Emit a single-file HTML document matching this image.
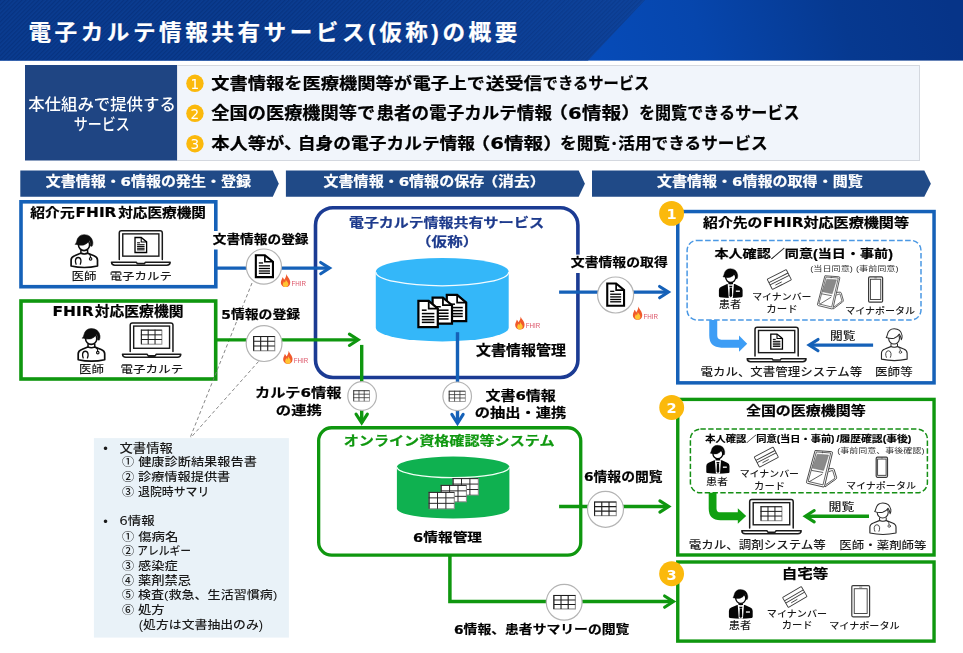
<!DOCTYPE html>
<html lang="ja">
<head>
<meta charset="utf-8">
<title>電子カルテ情報共有サービス(仮称)の概要</title>
<style>
html,body{margin:0;padding:0;background:#fff;}
body{width:963px;height:653px;overflow:hidden;font-family:"Liberation Sans","Noto Sans CJK JP",sans-serif;}
svg{display:block;font-family:"Liberation Sans","Noto Sans CJK JP",sans-serif;opacity:0.999;}
text{white-space:pre;}
</style>
</head>
<body>
<svg width="963" height="653" viewBox="0 0 963 653">
<defs>
<linearGradient id="hg" gradientUnits="userSpaceOnUse" x1="600" y1="75" x2="940" y2="-25">
<stop offset="0" stop-color="#064bb8"/><stop offset="0.3" stop-color="#0646ad"/><stop offset="0.7" stop-color="#063990"/><stop offset="1" stop-color="#063488"/>
</linearGradient>
<linearGradient id="hl" gradientUnits="userSpaceOnUse" x1="250" y1="0" x2="640" y2="0"><stop offset="0" stop-color="#1a5ac0" stop-opacity="0"/><stop offset="1" stop-color="#1a5ac0" stop-opacity="0.22"/></linearGradient>
<pattern id="hatch" width="3" height="3" patternUnits="userSpaceOnUse" patternTransform="rotate(-45)">
<rect width="3" height="3" fill="#0a3c91"/><rect width="3" height="1.3" fill="#073381"/>
</pattern>
</defs>
<rect x="0" y="0" width="963" height="60.6" fill="url(#hg)"/>
<path d="M0 0H645L588 60.6H0Z" fill="url(#hatch)"/>
<path d="M0 0H645L588 60.6H0Z" fill="url(#hl)"/>
<text transform="scale(1.05 1)" x="27.14" y="40.35" font-size="21.52" letter-spacing="3.375" fill="#fff" font-weight="700" stroke="#fff" stroke-width="0.22">電子カルテ情報共有サービス(仮称)の概要</text>
<rect x="177" y="65.5" width="742.5" height="95" fill="#f1f5fb" stroke="#d4d8df" stroke-width="1"/>
<rect x="25" y="65" width="152" height="95.5" fill="#1f4583"/>
<text y="109.64" font-size="16.05" fill="#fff" font-weight="500"><tspan x="28.15" textLength="147.74" lengthAdjust="spacingAndGlyphs">本仕組みで提供する</tspan></text>
<text y="130.38" font-size="16.21" fill="#fff" font-weight="500"><tspan x="73.87" textLength="55.93" lengthAdjust="spacingAndGlyphs">サービス</tspan></text>
<circle cx="194.95" cy="83.3" r="8.7" fill="#fbb90c"/>
<text x="194.95" y="88.67" font-size="13.6" font-weight="400" fill="#fff" text-anchor="middle" font-family="'DejaVu Sans','Liberation Sans',sans-serif">1</text>
<circle cx="194.95" cy="113.3" r="8.7" fill="#fbb90c"/>
<text x="194.95" y="118.67" font-size="13.6" font-weight="400" fill="#fff" text-anchor="middle" font-family="'DejaVu Sans','Liberation Sans',sans-serif">2</text>
<circle cx="194.95" cy="143.7" r="8.7" fill="#fbb90c"/>
<text x="194.95" y="149.07" font-size="13.6" font-weight="400" fill="#fff" text-anchor="middle" font-family="'DejaVu Sans','Liberation Sans',sans-serif">3</text>
<text y="88.97" font-size="16.27" fill="#000" font-weight="700" stroke="#000" stroke-width="0.22"><tspan x="211.29" textLength="200.72" lengthAdjust="spacingAndGlyphs">文書情報を医療機関等が</tspan><tspan x="412.70" textLength="72.21" lengthAdjust="spacingAndGlyphs">電子上で</tspan><tspan x="485.87" textLength="56.45" lengthAdjust="spacingAndGlyphs">送受信</tspan><tspan x="542.58" textLength="106.85" lengthAdjust="spacingAndGlyphs">できるサービス</tspan></text>
<text y="118.94" font-size="16.55" fill="#000" font-weight="700" font-family="'DejaVu Sans','Liberation Sans','Noto Sans CJK JP',sans-serif" stroke="#000" stroke-width="0.22"><tspan x="211.29" textLength="163.92" lengthAdjust="spacingAndGlyphs">全国の医療機関等で</tspan><tspan x="376.41" textLength="175.57" lengthAdjust="spacingAndGlyphs">患者の電子カルテ情報</tspan><tspan x="548.23" textLength="92.75" lengthAdjust="spacingAndGlyphs">（6情報）</tspan><tspan x="638.96" textLength="160.53" lengthAdjust="spacingAndGlyphs">を閲覧できるサービス</tspan></text>
<text y="148.65" font-size="16.47" fill="#000" font-weight="700" font-family="'DejaVu Sans','Liberation Sans','Noto Sans CJK JP',sans-serif" stroke="#000" stroke-width="0.22"><tspan x="211.29" textLength="91.03" lengthAdjust="spacingAndGlyphs">本人等が、</tspan><tspan x="297.74" textLength="177.35" lengthAdjust="spacingAndGlyphs">自身の電子カルテ情報</tspan><tspan x="470.61" textLength="92.20" lengthAdjust="spacingAndGlyphs">（6情報）</tspan><tspan x="560.01" textLength="207.72" lengthAdjust="spacingAndGlyphs">を閲覧･活用できるサービス</tspan></text>
<path d="M20.3 170.6H272.8L278.8 183.64999999999998L272.8 196.7H20.3Z" fill="#204a87"/>
<path d="M285.9 170.6H578.6999999999999L584.9 183.64999999999998L578.6999999999999 196.7H285.9Z" fill="#204a87"/>
<path d="M592 170.6H924.3L930.9 183.64999999999998L924.3 196.7H592Z" fill="#204a87"/>
<text y="186.46" font-size="13.11" fill="#fff" font-weight="700" font-family="'DejaVu Sans','Liberation Sans','Noto Sans CJK JP',sans-serif" stroke="#fff" stroke-width="0.22"><tspan x="45.70" textLength="205.24" lengthAdjust="spacingAndGlyphs">文書情報・6情報の発生・登録</tspan></text>
<text y="186.46" font-size="13.11" fill="#fff" font-weight="700" font-family="'DejaVu Sans','Liberation Sans','Noto Sans CJK JP',sans-serif" stroke="#fff" stroke-width="0.22"><tspan x="323.60" textLength="160.59" lengthAdjust="spacingAndGlyphs">文書情報・6情報の保存</tspan><tspan x="482.25" textLength="63.30" lengthAdjust="spacingAndGlyphs">（消去）</tspan></text>
<text y="186.46" font-size="13.11" fill="#fff" font-weight="700" font-family="'DejaVu Sans','Liberation Sans','Noto Sans CJK JP',sans-serif" stroke="#fff" stroke-width="0.22"><tspan x="656.90" textLength="205.84" lengthAdjust="spacingAndGlyphs">文書情報・6情報の取得・閲覧</tspan></text>
<rect x="93.9" y="438.1" width="195" height="199.5" fill="#e9f2f8"/>
<text x="103.3" y="453.0" font-size="13" fill="#1a1a1a" font-weight="500">•</text>
<text y="452.73" font-size="12.03" fill="#1a1a1a" font-weight="500"><tspan x="119.43" textLength="53.41" lengthAdjust="spacingAndGlyphs">文書情報</tspan></text>
<text y="466.36" font-size="11.72" fill="#1a1a1a" font-weight="500"><tspan x="121.90" textLength="15.47" lengthAdjust="spacingAndGlyphs">① </tspan><tspan x="138.18" textLength="118.68" lengthAdjust="spacingAndGlyphs">健康診断結果報告書</tspan></text>
<text y="481.34" font-size="11.92" fill="#1a1a1a" font-weight="500"><tspan x="121.90" textLength="15.47" lengthAdjust="spacingAndGlyphs">② </tspan><tspan x="137.96" textLength="92.30" lengthAdjust="spacingAndGlyphs">診療情報提供書</tspan></text>
<text y="495.74" font-size="11.92" fill="#1a1a1a" font-weight="500"><tspan x="121.90" textLength="15.47" lengthAdjust="spacingAndGlyphs">③ </tspan><tspan x="138.00" textLength="71.27" lengthAdjust="spacingAndGlyphs">退院時サマリ</tspan></text>
<text x="103.3" y="526.0" font-size="13" fill="#1a1a1a" font-weight="500">•</text>
<text y="525.47" font-size="11.73" fill="#1a1a1a" font-weight="500" font-family="'DejaVu Sans','Liberation Sans','Noto Sans CJK JP',sans-serif"><tspan x="119.20" textLength="35.59" lengthAdjust="spacingAndGlyphs">6情報</tspan></text>
<text y="540.75" font-size="11.83" fill="#1a1a1a" font-weight="500"><tspan x="121.90" textLength="15.47" lengthAdjust="spacingAndGlyphs">① </tspan><tspan x="138.18" textLength="40.37" lengthAdjust="spacingAndGlyphs">傷病名</tspan></text>
<text y="555.18" font-size="11.62" fill="#1a1a1a" font-weight="500"><tspan x="121.90" textLength="15.47" lengthAdjust="spacingAndGlyphs">② </tspan><tspan x="137.14" textLength="53.83" lengthAdjust="spacingAndGlyphs">アレルギー</tspan></text>
<text y="569.55" font-size="11.83" fill="#1a1a1a" font-weight="500"><tspan x="121.90" textLength="15.47" lengthAdjust="spacingAndGlyphs">③ </tspan><tspan x="137.96" textLength="39.68" lengthAdjust="spacingAndGlyphs">感染症</tspan></text>
<text y="584.53" font-size="12.03" fill="#1a1a1a" font-weight="500"><tspan x="121.90" textLength="15.47" lengthAdjust="spacingAndGlyphs">④ </tspan><tspan x="137.96" textLength="53.19" lengthAdjust="spacingAndGlyphs">薬剤禁忌</tspan></text>
<text y="599.16" font-size="11.72" fill="#1a1a1a" font-weight="500"><tspan x="121.90" textLength="15.47" lengthAdjust="spacingAndGlyphs">⑤ </tspan><tspan x="137.96" textLength="139.30" lengthAdjust="spacingAndGlyphs">検査(救急、生活習慣病)</tspan></text>
<text y="613.65" font-size="11.83" fill="#1a1a1a" font-weight="500"><tspan x="121.90" textLength="15.47" lengthAdjust="spacingAndGlyphs">⑥ </tspan><tspan x="137.95" textLength="26.82" lengthAdjust="spacingAndGlyphs">処方</tspan></text>
<text y="629.14" font-size="11.93" fill="#1a1a1a" font-weight="500"><tspan x="138.84" textLength="124.31" lengthAdjust="spacingAndGlyphs">(処方は文書抽出のみ)</tspan></text>
<rect x="21" y="201.8" width="194.8" height="84.9" fill="#fff" stroke="#1561b8" stroke-width="3.6"/>
<text y="216.88" font-size="13.01" fill="#000" font-weight="700" font-family="'DejaVu Sans','Liberation Sans','Noto Sans CJK JP',sans-serif" stroke="#000" stroke-width="0.22"><tspan x="30.35" textLength="44.34" lengthAdjust="spacingAndGlyphs">紹介元</tspan><tspan x="75.56" font-size="14.31" textLength="40.88" lengthAdjust="spacingAndGlyphs">FHIR</tspan><tspan x="118.16" textLength="87.82" lengthAdjust="spacingAndGlyphs">対応医療機関</tspan></text>
<g transform="translate(70.20 234.40) scale(1.0000 1.0000)" stroke="#0d0d0d" stroke-width="1.70" fill="#fff" stroke-linejoin="round" stroke-linecap="round"><path d="M0.9 31.6V25.6Q0.9 22.6 4.4 21.3L10.4 18.9H17.6L23.8 21.3Q27.3 22.6 27.3 25.6V31.6Q14.1 34.6 0.9 31.6Z"/><path d="M10.7 16V18.6Q14 20.4 17.4 18.6V16" fill="#fff" stroke-width="1.50"/><ellipse cx="13.85" cy="10.4" rx="5.6" ry="5.8" stroke-width="1.60"/><path d="M5.3 9.8Q6.1 8.6 6.5 7Q7.8 0.3 14 0.3Q21.2 0.3 22.6 7.6Q22.9 10.2 21.8 11.9L20.2 11.6Q20.6 8.6 19.3 6Q17.5 9.2 13.8 10.5Q10.2 11.4 5.3 9.8Z" fill="#0d0d0d" stroke-width="0.6"/><path d="M5.9 29.8Q5 27.6 5.3 25.8Q5.8 23.1 8 23.1Q10.2 23.1 10.7 25.8Q11 27.6 10.1 29.8" fill="none" stroke-width="1.30"/><path d="M18.7 19.4Q20.4 20.6 20.4 23" fill="none" stroke-width="1.10"/><circle cx="20.4" cy="24.5" r="1.25" stroke-width="1.10"/></g>
<g stroke="#1a1a1a" stroke-width="1.5" fill="none" stroke-linejoin="round" stroke-linecap="round"><path d="M119.27 259.44V232.90Q119.27 230.70 121.47 230.70H160.11Q162.31 230.70 162.31 232.90V259.44" fill="#fff"/><rect x="122.76" y="233.88" width="36.12" height="22.26" fill="#fff" stroke-linejoin="miter" stroke-width="1.4"/><path d="M111.50 262.13H136.25L137.25 263.53H144.45L145.45 262.13H170.20Q170.00 265.20 166.90 265.20H114.80Q111.70 265.20 111.50 262.13Z" fill="#fff"/></g>
<g stroke="#000" stroke-width="1.30" fill="#fff" stroke-linejoin="miter"><path d="M135.01 237.49H141.20L146.63 241.90V252.52H135.01Z"/><path d="M141.20 237.49V241.90H146.63" fill="none" stroke-width="1.04"/></g><g stroke="#000" stroke-width="1.05"><path d="M137.07 242.80H139.92"/><path d="M137.07 244.76H144.57"/><path d="M137.07 246.56H144.57"/><path d="M137.07 248.27H144.57"/><path d="M137.07 249.82H144.57"/></g>
<text y="279.94" font-size="10.29" fill="#1a1a1a" font-weight="500"><tspan x="71.46" textLength="25.06" lengthAdjust="spacingAndGlyphs">医師</tspan></text>
<text y="279.75" font-size="10.47" fill="#1a1a1a" font-weight="500"><tspan x="109.67" textLength="62.27" lengthAdjust="spacingAndGlyphs">電子カルテ</tspan></text>
<rect x="21" y="301" width="194.7" height="78" fill="#fff" stroke="#0f970f" stroke-width="3.6"/>
<text y="316.06" font-size="13.11" fill="#000" font-weight="700" font-family="'DejaVu Sans','Liberation Sans','Noto Sans CJK JP',sans-serif" stroke="#000" stroke-width="0.22"><tspan x="52.56" font-size="14.42" textLength="41.09" lengthAdjust="spacingAndGlyphs">FHIR</tspan><tspan x="94.75" textLength="88.73" lengthAdjust="spacingAndGlyphs">対応医療機関</tspan></text>
<g transform="translate(77.30 328.30) scale(1.0035 0.9941)" stroke="#0d0d0d" stroke-width="1.70" fill="#fff" stroke-linejoin="round" stroke-linecap="round"><path d="M0.9 31.6V25.6Q0.9 22.6 4.4 21.3L10.4 18.9H17.6L23.8 21.3Q27.3 22.6 27.3 25.6V31.6Q14.1 34.6 0.9 31.6Z"/><path d="M10.7 16V18.6Q14 20.4 17.4 18.6V16" fill="#fff" stroke-width="1.50"/><ellipse cx="13.85" cy="10.4" rx="5.6" ry="5.8" stroke-width="1.60"/><path d="M5.3 9.8Q6.1 8.6 6.5 7Q7.8 0.3 14 0.3Q21.2 0.3 22.6 7.6Q22.9 10.2 21.8 11.9L20.2 11.6Q20.6 8.6 19.3 6Q17.5 9.2 13.8 10.5Q10.2 11.4 5.3 9.8Z" fill="#0d0d0d" stroke-width="0.6"/><path d="M5.9 29.8Q5 27.6 5.3 25.8Q5.8 23.1 8 23.1Q10.2 23.1 10.7 25.8Q11 27.6 10.1 29.8" fill="none" stroke-width="1.30"/><path d="M18.7 19.4Q20.4 20.6 20.4 23" fill="none" stroke-width="1.10"/><circle cx="20.4" cy="24.5" r="1.25" stroke-width="1.10"/></g>
<g stroke="#1a1a1a" stroke-width="1.5" fill="none" stroke-linejoin="round" stroke-linecap="round"><path d="M130.22 351.56V325.10Q130.22 322.90 132.42 322.90H170.76Q172.96 322.90 172.96 325.10V351.56" fill="#fff"/><rect x="133.68" y="326.07" width="35.88" height="22.20" fill="#fff" stroke-linejoin="miter" stroke-width="1.4"/><path d="M122.50 354.24H147.05L148.05 355.64H155.25L156.25 354.24H180.80Q180.60 357.30 177.50 357.30H125.80Q122.70 357.30 122.50 354.24Z" fill="#fff"/></g>
<g fill="none" stroke-width="1.0"><rect x="141.37" y="330.15" width="20.49" height="14.04" fill="#fff" stroke="#8c8c8c"/><path d="M141.37 329.65V344.18M148.20 329.65V344.18M155.04 329.65V344.18M140.87 330.15H161.87M140.87 334.83H161.87M140.87 339.50H161.87" stroke="#1e1e1e"/></g>
<text y="373.06" font-size="10.18" fill="#1a1a1a" font-weight="500"><tspan x="78.96" textLength="24.96" lengthAdjust="spacingAndGlyphs">医師</tspan></text>
<text y="372.87" font-size="10.37" fill="#1a1a1a" font-weight="500"><tspan x="120.56" textLength="62.68" lengthAdjust="spacingAndGlyphs">電子カルテ</tspan></text>
<path d="M252 283L190 438" fill="none" stroke="#7a7a7a" stroke-width="0.9" stroke-dasharray="3.5 2.5"/>
<path d="M258.5 361.5L190.5 438" fill="none" stroke="#7a7a7a" stroke-width="0.9" stroke-dasharray="3.5 2.5"/>
<rect x="315.5" y="207.7" width="262.4" height="169.8" rx="17.5" fill="#fff" stroke="#1b3b93" stroke-width="3.6"/>
<text y="227.02" font-size="12.71" fill="#1d3a8c" font-weight="700" stroke="#1d3a8c" stroke-width="0.22"><tspan x="349.00" textLength="134.34" lengthAdjust="spacingAndGlyphs">電子カルテ情報共有</tspan><tspan x="483.34" textLength="61.03" lengthAdjust="spacingAndGlyphs">サービス</tspan></text>
<text y="245.83" font-size="12.86" fill="#1d3a8c" font-weight="700" stroke="#1d3a8c" stroke-width="0.22"><tspan x="416.02" textLength="62.25" lengthAdjust="spacingAndGlyphs">（仮称）</tspan></text>
<path d="M375.8 271.9V327.8A66.4 13.6 0 0 0 508.7 327.8V271.9Z" fill="#34b7f9"/>
<ellipse cx="442.25" cy="271.9" rx="66.45" ry="13.9" fill="#34b7f9"/>
<path d="M375.8 271.9A66.45 13.9 0 0 0 508.7 271.9" fill="none" stroke="#f2fbff" stroke-width="1.3"/>
<g stroke="#000" stroke-width="2.20" fill="#fff" stroke-linejoin="miter"><path d="M446.80 294.95H457.13L466.20 302.59V321.05H446.80Z"/><path d="M457.13 294.95V302.59H466.20" fill="none" stroke-width="1.76"/></g><g stroke="#000" stroke-width="1.53"><path d="M450.24 304.18H454.99"/><path d="M450.24 307.58H462.76"/><path d="M450.24 310.69H462.76"/><path d="M450.24 313.66H462.76"/><path d="M450.24 316.35H462.76"/></g>
<g stroke="#000" stroke-width="2.20" fill="#fff" stroke-linejoin="miter"><path d="M432.60 297.55H442.93L452.00 305.19V323.65H432.60Z"/><path d="M442.93 297.55V305.19H452.00" fill="none" stroke-width="1.76"/></g><g stroke="#000" stroke-width="1.53"><path d="M436.04 306.78H440.79"/><path d="M436.04 310.18H448.56"/><path d="M436.04 313.29H448.56"/><path d="M436.04 316.26H448.56"/><path d="M436.04 318.95H448.56"/></g>
<g stroke="#000" stroke-width="2.20" fill="#fff" stroke-linejoin="miter"><path d="M418.40 300.95H428.73L437.80 308.59V327.05H418.40Z"/><path d="M428.73 300.95V308.59H437.80" fill="none" stroke-width="1.76"/></g><g stroke="#000" stroke-width="1.53"><path d="M421.84 310.18H426.59"/><path d="M421.84 313.58H434.36"/><path d="M421.84 316.69H434.36"/><path d="M421.84 319.66H434.36"/><path d="M421.84 322.35H434.36"/></g>
<g transform="translate(515.00 316.40) scale(1.015)"><path d="M5.6 0C5.9 2.2 8.6 3.8 9.3 7.2C9.9 10.6 7.9 13 4.9 13C1.9 13 -0.1 10.8 0.2 8C0.4 6 1.6 5 1.7 3.2C2.6 3.8 3.2 4.8 3.3 5.8C4.6 4.4 5.5 2.2 5.6 0Z" fill="#f0592b"/><path d="M5 5.4C5.4 7 7.4 7.8 7.6 9.8C7.8 11.6 6.5 12.9 4.9 12.9C3.3 12.9 2 11.7 2.1 10.1C2.2 8.9 3 8.4 3.1 7.2C3.7 7.6 4 8.2 4.1 8.8C4.7 7.8 5 6.6 5 5.4Z" fill="#ffc533"/></g>
<text y="328.30" font-size="7.02" fill="#dc5468"><tspan x="525.78" textLength="14.53" lengthAdjust="spacingAndGlyphs">FHIR</tspan></text>
<text y="354.96" font-size="13.11" fill="#000" font-weight="700" stroke="#000" stroke-width="0.22"><tspan x="475.90" textLength="90.10" lengthAdjust="spacingAndGlyphs">文書情報管理</tspan></text>
<rect x="318.65" y="427.75" width="262.1" height="127.4" rx="13" fill="#fff" stroke="#0f970f" stroke-width="3.3"/>
<text y="444.79" font-size="12.91" fill="#109810" font-weight="700" stroke="#109810" stroke-width="0.22"><tspan x="343.79" textLength="210.71" lengthAdjust="spacingAndGlyphs">オンライン資格確認等システム</tspan></text>
<path d="M396.9 467.1V508.6A56.25 10 0 0 0 509.4 508.6V467.1Z" fill="#0fb150"/>
<ellipse cx="453.15" cy="467.1" rx="56.25" ry="10.5" fill="#0fb150"/>
<path d="M396.9 467.1A56.25 10.5 0 0 0 509.4 467.1" fill="none" stroke="#f0fff5" stroke-width="1.3"/>
<g fill="none" stroke-width="1.0"><rect x="453.10" y="478.60" width="25.20" height="16.40" fill="#fff" stroke="#8c8c8c"/><path d="M453.10 478.10V495.00M461.50 478.10V495.00M469.90 478.10V495.00M452.60 478.60H478.30M452.60 484.07H478.30M452.60 489.53H478.30" stroke="#2a2a2a"/></g>
<g fill="none" stroke-width="1.0"><rect x="441.20" y="485.40" width="25.20" height="16.40" fill="#fff" stroke="#8c8c8c"/><path d="M441.20 484.90V501.80M449.60 484.90V501.80M458.00 484.90V501.80M440.70 485.40H466.40M440.70 490.87H466.40M440.70 496.33H466.40" stroke="#2a2a2a"/></g>
<g fill="none" stroke-width="1.0"><rect x="429.10" y="492.40" width="25.20" height="16.40" fill="#fff" stroke="#8c8c8c"/><path d="M429.10 491.90V508.80M437.50 491.90V508.80M445.90 491.90V508.80M428.60 492.40H454.30M428.60 497.87H454.30M428.60 503.33H454.30" stroke="#2a2a2a"/></g>
<text y="541.74" font-size="12.51" fill="#000" font-weight="700" font-family="'DejaVu Sans','Liberation Sans','Noto Sans CJK JP',sans-serif" stroke="#000" stroke-width="0.21"><tspan x="413.12" textLength="68.91" lengthAdjust="spacingAndGlyphs">6情報管理</tspan></text>
<path d="M217 268.1H329" fill="none" stroke="#1561b8" stroke-width="3.3"/>
<path d="M320.70 262.45L329.55 268.10L320.70 273.75" fill="none" stroke="#1561b8" stroke-width="3.1" stroke-linecap="round" stroke-linejoin="miter" stroke-miterlimit="10"/>
<rect x="210.5" y="231" width="100.5" height="18.5" fill="#fff"/>
<text y="243.56" font-size="12.41" fill="#000" font-weight="700" stroke="#000" stroke-width="0.21"><tspan x="212.74" textLength="95.78" lengthAdjust="spacingAndGlyphs">文書情報の登録</tspan></text>
<circle cx="263.9" cy="266.6" r="17.6" fill="#fff" stroke="#b4b4b4" stroke-width="1.2"/>
<g stroke="#000" stroke-width="2.10" fill="#fff" stroke-linejoin="miter"><path d="M255.85 255.25H264.89L272.95 261.73V277.15H255.85Z"/><path d="M264.89 255.25V261.73H272.95" fill="none" stroke-width="1.68"/></g><g stroke="#000" stroke-width="1.30"><path d="M258.83 262.96H263.06"/><path d="M258.83 265.84H269.97"/><path d="M258.83 268.48H269.97"/><path d="M258.83 271.00H269.97"/><path d="M258.83 273.28H269.97"/></g>
<g transform="translate(280.70 273.90) scale(1.015)"><path d="M5.6 0C5.9 2.2 8.6 3.8 9.3 7.2C9.9 10.6 7.9 13 4.9 13C1.9 13 -0.1 10.8 0.2 8C0.4 6 1.6 5 1.7 3.2C2.6 3.8 3.2 4.8 3.3 5.8C4.6 4.4 5.5 2.2 5.6 0Z" fill="#f0592b"/><path d="M5 5.4C5.4 7 7.4 7.8 7.6 9.8C7.8 11.6 6.5 12.9 4.9 12.9C3.3 12.9 2 11.7 2.1 10.1C2.2 8.9 3 8.4 3.1 7.2C3.7 7.6 4 8.2 4.1 8.8C4.7 7.8 5 6.6 5 5.4Z" fill="#ffc533"/></g>
<text y="285.80" font-size="7.02" fill="#dc5468"><tspan x="291.48" textLength="14.53" lengthAdjust="spacingAndGlyphs">FHIR</tspan></text>
<path d="M217 339.8H358" fill="none" stroke="#0f970f" stroke-width="3.3"/>
<path d="M349.40 334.15L358.25 339.80L349.40 345.45" fill="none" stroke="#0f970f" stroke-width="3.1" stroke-linecap="round" stroke-linejoin="miter" stroke-miterlimit="10"/>
<text y="319.06" font-size="12.41" fill="#000" font-weight="700" font-family="'DejaVu Sans','Liberation Sans','Noto Sans CJK JP',sans-serif" stroke="#000" stroke-width="0.21"><tspan x="221.25" textLength="78.86" lengthAdjust="spacingAndGlyphs">5情報の登録</tspan></text>
<circle cx="264.1" cy="343.6" r="17.9" fill="#fff" stroke="#b4b4b4" stroke-width="1.2"/>
<g fill="none" stroke-width="1.1"><rect x="253.65" y="336.55" width="21.10" height="14.20" fill="#fff" stroke="#8c8c8c"/><path d="M253.65 336.00V350.75M260.68 336.00V350.75M267.72 336.00V350.75M253.10 336.55H274.75M253.10 341.28H274.75M253.10 346.02H274.75" stroke="#1e1e1e"/></g>
<g transform="translate(283.00 350.70) scale(1.015)"><path d="M5.6 0C5.9 2.2 8.6 3.8 9.3 7.2C9.9 10.6 7.9 13 4.9 13C1.9 13 -0.1 10.8 0.2 8C0.4 6 1.6 5 1.7 3.2C2.6 3.8 3.2 4.8 3.3 5.8C4.6 4.4 5.5 2.2 5.6 0Z" fill="#f0592b"/><path d="M5 5.4C5.4 7 7.4 7.8 7.6 9.8C7.8 11.6 6.5 12.9 4.9 12.9C3.3 12.9 2 11.7 2.1 10.1C2.2 8.9 3 8.4 3.1 7.2C3.7 7.6 4 8.2 4.1 8.8C4.7 7.8 5 6.6 5 5.4Z" fill="#ffc533"/></g>
<text y="362.60" font-size="7.02" fill="#dc5468"><tspan x="293.78" textLength="14.53" lengthAdjust="spacingAndGlyphs">FHIR</tspan></text>
<text y="396.79" font-size="12.93" fill="#000" font-weight="700" font-family="'DejaVu Sans','Liberation Sans','Noto Sans CJK JP',sans-serif" stroke="#000" stroke-width="0.22"><tspan x="255.04" textLength="86.41" lengthAdjust="spacingAndGlyphs">カルテ6情報</tspan></text>
<text y="414.90" font-size="12.12" fill="#000" font-weight="700" stroke="#000" stroke-width="0.21"><tspan x="275.88" textLength="45.99" lengthAdjust="spacingAndGlyphs">の連携</tspan></text>
<path d="M361.7 344.9V423" fill="none" stroke="#0f970f" stroke-width="3.4"/>
<path d="M356.05 414.10L361.70 422.95L367.35 414.10" fill="none" stroke="#0f970f" stroke-width="3.1" stroke-linecap="round" stroke-linejoin="miter" stroke-miterlimit="10"/>
<circle cx="362.1" cy="396.0" r="14.3" fill="#fff" stroke="#b4b4b4" stroke-width="1.2"/>
<g fill="none" stroke-width="0.8"><rect x="353.70" y="390.70" width="15.80" height="10.50" fill="#fff" stroke="#8c8c8c"/><path d="M353.70 390.30V401.20M358.97 390.30V401.20M364.23 390.30V401.20M353.30 390.70H369.50M353.30 394.20H369.50M353.30 397.70H369.50" stroke="#333"/></g>
<path d="M457.5 332.2V423" fill="none" stroke="#1561b8" stroke-width="3.4"/>
<path d="M451.85 414.40L457.50 423.25L463.15 414.40" fill="none" stroke="#1561b8" stroke-width="3.1" stroke-linecap="round" stroke-linejoin="miter" stroke-miterlimit="10"/>
<circle cx="457.2" cy="396.3" r="14.3" fill="#fff" stroke="#b4b4b4" stroke-width="1.2"/>
<g fill="none" stroke-width="0.8"><rect x="449.20" y="391.20" width="16.10" height="10.20" fill="#fff" stroke="#8c8c8c"/><path d="M449.20 390.80V401.40M454.57 390.80V401.40M459.93 390.80V401.40M448.80 391.20H465.30M448.80 394.60H465.30M448.80 398.00H465.30" stroke="#333"/></g>
<text y="399.62" font-size="12.71" fill="#000" font-weight="700" font-family="'DejaVu Sans','Liberation Sans','Noto Sans CJK JP',sans-serif" stroke="#000" stroke-width="0.22"><tspan x="485.40" textLength="70.44" lengthAdjust="spacingAndGlyphs">文書6情報</tspan></text>
<text y="416.82" font-size="12.71" fill="#000" font-weight="700" stroke="#000" stroke-width="0.22"><tspan x="474.78" textLength="91.48" lengthAdjust="spacingAndGlyphs">の抽出・連携</tspan></text>
<path d="M559.1 292.1H668" fill="none" stroke="#1561b8" stroke-width="3.4"/>
<path d="M659.60 286.45L668.45 292.10L659.60 297.75" fill="none" stroke="#1561b8" stroke-width="3.1" stroke-linecap="round" stroke-linejoin="miter" stroke-miterlimit="10"/>
<rect x="569" y="254.6" width="100" height="18.4" fill="#fff"/>
<text y="267.36" font-size="12.41" fill="#000" font-weight="700" stroke="#000" stroke-width="0.21"><tspan x="570.84" textLength="96.95" lengthAdjust="spacingAndGlyphs">文書情報の取得</tspan></text>
<circle cx="615.6" cy="295.0" r="18.0" fill="#fff" stroke="#b4b4b4" stroke-width="1.2"/>
<g stroke="#000" stroke-width="2.10" fill="#fff" stroke-linejoin="miter"><path d="M607.25 283.45H616.11L624.05 290.04V305.75H607.25Z"/><path d="M616.11 283.45V290.04H624.05" fill="none" stroke-width="1.68"/></g><g stroke="#000" stroke-width="1.32"><path d="M610.17 291.31H614.33"/><path d="M610.17 294.23H621.13"/><path d="M610.17 296.92H621.13"/><path d="M610.17 299.48H621.13"/><path d="M610.17 301.80H621.13"/></g>
<g transform="translate(632.70 306.60) scale(1.015)"><path d="M5.6 0C5.9 2.2 8.6 3.8 9.3 7.2C9.9 10.6 7.9 13 4.9 13C1.9 13 -0.1 10.8 0.2 8C0.4 6 1.6 5 1.7 3.2C2.6 3.8 3.2 4.8 3.3 5.8C4.6 4.4 5.5 2.2 5.6 0Z" fill="#f0592b"/><path d="M5 5.4C5.4 7 7.4 7.8 7.6 9.8C7.8 11.6 6.5 12.9 4.9 12.9C3.3 12.9 2 11.7 2.1 10.1C2.2 8.9 3 8.4 3.1 7.2C3.7 7.6 4 8.2 4.1 8.8C4.7 7.8 5 6.6 5 5.4Z" fill="#ffc533"/></g>
<text y="318.50" font-size="7.02" fill="#dc5468"><tspan x="643.48" textLength="14.53" lengthAdjust="spacingAndGlyphs">FHIR</tspan></text>
<path d="M559.1 506.5H668" fill="none" stroke="#0f970f" stroke-width="3.4"/>
<path d="M659.90 500.85L668.75 506.50L659.90 512.15" fill="none" stroke="#0f970f" stroke-width="3.1" stroke-linecap="round" stroke-linejoin="miter" stroke-miterlimit="10"/>
<circle cx="605.5" cy="509.3" r="18.0" fill="#fff" stroke="#b4b4b4" stroke-width="1.2"/>
<g fill="none" stroke-width="1.1"><rect x="594.55" y="502.05" width="21.70" height="13.60" fill="#fff" stroke="#8c8c8c"/><path d="M594.55 501.50V515.65M601.78 501.50V515.65M609.02 501.50V515.65M594.00 502.05H616.25M594.00 506.58H616.25M594.00 511.12H616.25" stroke="#1e1e1e"/></g>
<text y="481.25" font-size="12.53" fill="#000" font-weight="700" font-family="'DejaVu Sans','Liberation Sans','Noto Sans CJK JP',sans-serif" stroke="#000" stroke-width="0.21"><tspan x="583.98" textLength="78.52" lengthAdjust="spacingAndGlyphs">6情報の閲覧</tspan></text>
<path d="M449.9 556V601.6H673" fill="none" stroke="#0f970f" stroke-width="3.5"/>
<path d="M664.60 595.95L673.45 601.60L664.60 607.25" fill="none" stroke="#0f970f" stroke-width="3.1" stroke-linecap="round" stroke-linejoin="miter" stroke-miterlimit="10"/>
<circle cx="564.2" cy="602.3" r="17.9" fill="#fff" stroke="#b4b4b4" stroke-width="1.2"/>
<g fill="none" stroke-width="1.1"><rect x="553.85" y="595.45" width="21.50" height="13.50" fill="#fff" stroke="#8c8c8c"/><path d="M553.85 594.90V608.95M561.02 594.90V608.95M568.18 594.90V608.95M553.30 595.45H575.35M553.30 599.95H575.35M553.30 604.45H575.35" stroke="#1e1e1e"/></g>
<text y="634.10" font-size="12.12" fill="#000" font-weight="700" font-family="'DejaVu Sans','Liberation Sans','Noto Sans CJK JP',sans-serif" stroke="#000" stroke-width="0.21"><tspan x="453.98" textLength="175.42" lengthAdjust="spacingAndGlyphs">6情報、患者サマリーの閲覧</tspan></text>
<rect x="677.75" y="211.55" width="256.3" height="171.3" fill="#fff" stroke="#1561b8" stroke-width="3.5"/>
<text y="226.80" font-size="12.81" fill="#000" font-weight="700" font-family="'DejaVu Sans','Liberation Sans','Noto Sans CJK JP',sans-serif" stroke="#000" stroke-width="0.22"><tspan x="703.05" textLength="59.34" lengthAdjust="spacingAndGlyphs">紹介先の</tspan><tspan x="762.88" font-size="14.09" textLength="40.56" lengthAdjust="spacingAndGlyphs">FHIR</tspan><tspan x="803.45" textLength="105.61" lengthAdjust="spacingAndGlyphs">対応医療機関等</tspan></text>
<rect x="687.1" y="240.4" width="233.9" height="79.6" rx="10" fill="none" stroke="#4a98e4" stroke-width="1.5" stroke-dasharray="5.6 2.4"/>
<text y="257.73" font-size="11.92" fill="#000" font-weight="700" stroke="#000" stroke-width="0.20"><tspan x="714.43" textLength="178.47" lengthAdjust="spacingAndGlyphs">本人確認／同意(当日・事前)</tspan></text>
<text y="270.72" font-size="7.20" fill="#333"><tspan x="810.19" textLength="42.72" lengthAdjust="spacingAndGlyphs">(当日同意)</tspan><tspan x="853.46" textLength="45.09" lengthAdjust="spacingAndGlyphs"> (事前同意)</tspan></text>
<g transform="translate(718.60 268.60) scale(1.0210 1.0319)"><path d="M0.3 26.6V20.8Q0.3 18.6 2.6 17.6L8.3 15H15.9L21.2 17.6Q23.5 18.6 23.5 20.8V26.6Q23.5 27.6 22.5 27.8Q11.9 29.2 1.3 27.8Q0.3 27.6 0.3 26.6Z" fill="#050505"/><path d="M9.6 13H14.1V15.6H9.6Z" fill="#050505"/><path d="M8.9 14.9L9.9 28.3Q11.9 28.7 14 28.3L15 14.9Q12 15.7 8.9 14.9Z" fill="#fff"/><path d="M10.4 16.7H13.5L13.1 18.4H10.8Z" fill="#050505"/><path d="M10.9 18.8H13L13.3 26.2L11.95 27.9L10.6 26.2Z" fill="#050505"/><path d="M16.9 21.9H20.8" stroke="#fff" stroke-width="1.3"/><ellipse cx="11.85" cy="8.5" rx="4.9" ry="5.0" fill="#fff" stroke="#050505" stroke-width="1.35"/><path d="M4.3 8.0Q5.0 7.0 5.3 5.6Q6.4 0.1 11.6 0.1Q17.6 0.1 18.7 6.2Q18.9 8.4 18.1 9.8L16.8 9.6Q17 6.6 16.1 4.4Q14.4 7.4 11.3 8.5Q8.4 9.3 4.3 8.0Z" fill="#050505" stroke="#050505" stroke-width="0.4" stroke-linejoin="round"/></g>
<text y="308.47" font-size="10.08" fill="#1a1a1a" font-weight="500"><tspan x="718.72" textLength="22.54" lengthAdjust="spacingAndGlyphs">患者</tspan></text>
<g transform="translate(779.30 279.50) rotate(-26.8)" stroke="#3a3a3a" stroke-width="0.9" fill="#fff"><rect x="-10.70" y="-5.80" width="21.40" height="11.60" rx="0.8"/><path d="M-10.70 -1.86H10.70M-10.70 0.70H10.70"/><path d="M-5.99 3.25H1.07" stroke-width="0.8"/></g>
<text y="299.83" font-size="8.91" fill="#1a1a1a" font-weight="500"><tspan x="752.21" textLength="59.25" lengthAdjust="spacingAndGlyphs">マイナンバー</tspan></text>
<text y="311.88" font-size="9.60" fill="#1a1a1a" font-weight="500"><tspan x="766.25" textLength="31.37" lengthAdjust="spacingAndGlyphs">カード</tspan></text>
<g transform="translate(817.10 275.30) scale(0.8581 0.8740)" stroke="#3c3c3c" stroke-width="0.95" fill="#fff" stroke-linejoin="round"><path d="M21.8 19.6L26.8 19.3Q27.8 19.4 28.2 20.4L30.6 28.6Q30.8 29.8 29.8 30.4L19 38.4L17 36Z"/><path d="M22.6 22.6L26.6 21.2L29 29.4L19.6 36.2" fill="none" stroke-width="0.8"/><path d="M9.1 0.5L25.4 1.7Q26.8 1.9 26.4 3.3L18.6 37.6Q18.2 38.8 17 38.4L1.2 34.6Q0.1 34.2 0.5 33Z"/><path d="M10.4 2L24.7 3.1L17 36.3L2.1 32.7Z" fill="none" stroke-width="0.8"/><path d="M11.3 4.4L22.6 5.2L17.6 21.2L6.2 18.8Z" fill="#8a8a8a" stroke="#6a6a6a" stroke-width="0.5"/><path d="M5.4 21.2L17.2 23.4M3.2 33L16.4 25" fill="none" stroke-width="0.85"/><path d="M16.6 1.4L16.4 3.4" fill="none" stroke-width="0.7"/></g>
<g stroke="#3a3a3a" fill="#fff"><rect x="868.60" y="276.80" width="14.00" height="25.30" rx="1.2" stroke-width="1.2"/><rect x="870.43" y="279.25" width="10.34" height="20.27" stroke-width="0.9"/><path d="M874.38 277.92H876.82" stroke-width="0.6"/></g>
<text y="313.61" font-size="9.01" fill="#1a1a1a" font-weight="500"><tspan x="845.20" textLength="69.87" lengthAdjust="spacingAndGlyphs">マイナポータル</tspan></text>
<path d="M713.25 320V335.6Q713.25 343.65 721.3 343.65H739.5" fill="none" stroke="#3d9df5" stroke-width="8"/>
<path d="M739 335.6L747.2 343.65L739 351.7Z" fill="#3d9df5"/>
<g stroke="#1a1a1a" stroke-width="1.5" fill="none" stroke-linejoin="round" stroke-linecap="round"><path d="M755.00 355.96V329.50Q755.00 327.30 757.20 327.30H795.98Q798.18 327.30 798.18 329.50V355.96" fill="#fff"/><rect x="758.50" y="330.47" width="36.24" height="22.20" fill="#fff" stroke-linejoin="miter" stroke-width="1.4"/><path d="M747.20 358.64H772.05L773.05 360.04H780.25L781.25 358.64H806.10Q805.90 361.70 802.80 361.70H750.50Q747.40 361.70 747.20 358.64Z" fill="#fff"/></g>
<g stroke="#000" stroke-width="1.30" fill="#fff" stroke-linejoin="miter"><path d="M770.79 334.07H777.01L782.45 338.47V349.06H770.79Z"/><path d="M777.01 334.07V338.47H782.45" fill="none" stroke-width="1.04"/></g><g stroke="#000" stroke-width="1.05"><path d="M772.86 339.37H775.71"/><path d="M772.86 341.32H780.38"/><path d="M772.86 343.11H780.38"/><path d="M772.86 344.82H780.38"/><path d="M772.86 346.37H780.38"/></g>
<path d="M873.1 345.1H810" fill="none" stroke="#1561b8" stroke-width="3.4"/>
<path d="M818.00 339.45L809.15 345.10L818.00 350.75" fill="none" stroke="#1561b8" stroke-width="3.1" stroke-linecap="round" stroke-linejoin="miter" stroke-miterlimit="10"/>
<text y="340.24" font-size="11.11" fill="#1a1a1a" font-weight="500"><tspan x="830.14" textLength="25.49" lengthAdjust="spacingAndGlyphs">閲覧</tspan></text>
<g transform="translate(880.60 328.00) scale(0.9716 0.9853)" stroke="#2a2a2a" stroke-width="1.16" fill="#fff" stroke-linejoin="round" stroke-linecap="round"><path d="M0.9 31.6V25.6Q0.9 22.6 4.4 21.3L10.4 18.9H17.6L23.8 21.3Q27.3 22.6 27.3 25.6V31.6Q14.1 34.6 0.9 31.6Z"/><path d="M10.7 16V18.6Q14 20.4 17.4 18.6V16" fill="#fff" stroke-width="1.02"/><ellipse cx="13.85" cy="10.4" rx="5.6" ry="5.8" stroke-width="1.09"/><path d="M5.8 9.7Q6.6 8.6 6.9 7Q8.1 0.8 14 0.8Q20.8 0.8 22.1 7.6Q22.4 10 21.3 11.8Q20.9 8.6 19.3 6.2Q17.5 9.2 13.8 10.4Q10.4 11.2 5.8 9.7Z" fill="#fff" stroke-width="1.02"/><path d="M5.9 29.8Q5 27.6 5.3 25.8Q5.8 23.1 8 23.1Q10.2 23.1 10.7 25.8Q11 27.6 10.1 29.8" fill="none" stroke-width="0.88"/><path d="M18.7 19.4Q20.4 20.6 20.4 23" fill="none" stroke-width="0.75"/><circle cx="20.4" cy="24.5" r="1.25" stroke-width="0.75"/></g>
<text y="376.22" font-size="11.22" fill="#1a1a1a" font-weight="500"><tspan x="700.47" textLength="161.79" lengthAdjust="spacingAndGlyphs">電カル、文書管理システム等</tspan></text>
<text y="375.87" font-size="10.81" fill="#1a1a1a" font-weight="500"><tspan x="875.05" textLength="37.67" lengthAdjust="spacingAndGlyphs">医師等</tspan></text>
<circle cx="671.6" cy="213.4" r="12.45" fill="#fbb90c"/>
<text x="671.6" y="219.17" font-size="14.6" font-weight="700" fill="#fff" text-anchor="middle" font-family="'DejaVu Sans','Liberation Sans',sans-serif">1</text>
<rect x="677.75" y="399.4" width="256.3" height="155.6" fill="#fff" stroke="#0f970f" stroke-width="3.4"/>
<text y="414.93" font-size="12.61" fill="#000" font-weight="700" stroke="#000" stroke-width="0.21"><tspan x="745.90" textLength="119.95" lengthAdjust="spacingAndGlyphs">全国の医療機関等</tspan></text>
<rect x="690.4" y="429.1" width="237" height="63.7" rx="10" fill="none" stroke="#158f15" stroke-width="1.5" stroke-dasharray="5.4 2.4"/>
<text y="441.57" font-size="8.74" fill="#000" font-weight="700" stroke="#000" stroke-width="0.15"><tspan x="705.36" textLength="129.14" lengthAdjust="spacingAndGlyphs">本人確認／同意(当日・事前)</tspan><tspan x="836.42" textLength="75.06" lengthAdjust="spacingAndGlyphs">/履歴確認(事後)</tspan></text>
<text y="452.62" font-size="7.20" fill="#333"><tspan x="837.30" textLength="87.10" lengthAdjust="spacingAndGlyphs">(事前同意、事後確認)</tspan></text>
<g transform="translate(706.00 445.20) scale(1.0000 1.0035)"><path d="M0.3 26.6V20.8Q0.3 18.6 2.6 17.6L8.3 15H15.9L21.2 17.6Q23.5 18.6 23.5 20.8V26.6Q23.5 27.6 22.5 27.8Q11.9 29.2 1.3 27.8Q0.3 27.6 0.3 26.6Z" fill="#050505"/><path d="M9.6 13H14.1V15.6H9.6Z" fill="#050505"/><path d="M8.9 14.9L9.9 28.3Q11.9 28.7 14 28.3L15 14.9Q12 15.7 8.9 14.9Z" fill="#fff"/><path d="M10.4 16.7H13.5L13.1 18.4H10.8Z" fill="#050505"/><path d="M10.9 18.8H13L13.3 26.2L11.95 27.9L10.6 26.2Z" fill="#050505"/><path d="M16.9 21.9H20.8" stroke="#fff" stroke-width="1.3"/><ellipse cx="11.85" cy="8.5" rx="4.9" ry="5.0" fill="#fff" stroke="#050505" stroke-width="1.35"/><path d="M4.3 8.0Q5.0 7.0 5.3 5.6Q6.4 0.1 11.6 0.1Q17.6 0.1 18.7 6.2Q18.9 8.4 18.1 9.8L16.8 9.6Q17 6.6 16.1 4.4Q14.4 7.4 11.3 8.5Q8.4 9.3 4.3 8.0Z" fill="#050505" stroke="#050505" stroke-width="0.4" stroke-linejoin="round"/></g>
<text y="485.12" font-size="9.67" fill="#1a1a1a" font-weight="500"><tspan x="705.93" textLength="22.02" lengthAdjust="spacingAndGlyphs">患者</tspan></text>
<g transform="translate(766.30 457.10) rotate(-27.5)" stroke="#3a3a3a" stroke-width="0.9" fill="#fff"><rect x="-10.70" y="-5.80" width="21.40" height="11.60" rx="0.8"/><path d="M-10.70 -1.86H10.70M-10.70 0.70H10.70"/><path d="M-5.99 3.25H1.07" stroke-width="0.8"/></g>
<text y="477.24" font-size="8.80" fill="#1a1a1a" font-weight="500"><tspan x="739.71" textLength="59.25" lengthAdjust="spacingAndGlyphs">マイナンバー</tspan></text>
<text y="488.99" font-size="9.49" fill="#1a1a1a" font-weight="500"><tspan x="754.07" textLength="31.04" lengthAdjust="spacingAndGlyphs">カード</tspan></text>
<g transform="translate(806.00 450.00) scale(1.0000 0.9614)" stroke="#3c3c3c" stroke-width="0.95" fill="#fff" stroke-linejoin="round"><path d="M21.8 19.6L26.8 19.3Q27.8 19.4 28.2 20.4L30.6 28.6Q30.8 29.8 29.8 30.4L19 38.4L17 36Z"/><path d="M22.6 22.6L26.6 21.2L29 29.4L19.6 36.2" fill="none" stroke-width="0.8"/><path d="M9.1 0.5L25.4 1.7Q26.8 1.9 26.4 3.3L18.6 37.6Q18.2 38.8 17 38.4L1.2 34.6Q0.1 34.2 0.5 33Z"/><path d="M10.4 2L24.7 3.1L17 36.3L2.1 32.7Z" fill="none" stroke-width="0.8"/><path d="M11.3 4.4L22.6 5.2L17.6 21.2L6.2 18.8Z" fill="#8a8a8a" stroke="#6a6a6a" stroke-width="0.5"/><path d="M5.4 21.2L17.2 23.4M3.2 33L16.4 25" fill="none" stroke-width="0.85"/><path d="M16.6 1.4L16.4 3.4" fill="none" stroke-width="0.7"/></g>
<g stroke="#3a3a3a" fill="#fff"><rect x="876.20" y="457.20" width="11.30" height="20.10" rx="1.2" stroke-width="1.2"/><rect x="877.60" y="459.05" width="8.50" height="16.29" stroke-width="0.9"/><path d="M880.85 457.98H882.85" stroke-width="0.6"/></g>
<text y="488.82" font-size="8.80" fill="#1a1a1a" font-weight="500"><tspan x="845.90" textLength="70.07" lengthAdjust="spacingAndGlyphs">マイナポータル</tspan></text>
<path d="M712.6 492.8V508.4Q712.6 516.25 720.5 516.25H738.3" fill="none" stroke="#11a011" stroke-width="7.8"/>
<path d="M737.8 508.3L746.2 516.1L737.8 523.8Z" fill="#11a011"/>
<g stroke="#1a1a1a" stroke-width="1.5" fill="none" stroke-linejoin="round" stroke-linecap="round"><path d="M749.67 528.07V501.70Q749.67 499.50 751.87 499.50H791.01Q793.21 499.50 793.21 501.70V528.07" fill="#fff"/><rect x="753.20" y="502.66" width="36.54" height="22.13" fill="#fff" stroke-linejoin="miter" stroke-width="1.4"/><path d="M741.80 530.75H766.90L767.90 532.15H775.10L776.10 530.75H801.20Q801.00 533.80 797.90 533.80H745.10Q742.00 533.80 741.80 530.75Z" fill="#fff"/></g>
<g fill="none" stroke-width="1.0"><rect x="761.03" y="506.73" width="20.89" height="13.99" fill="#fff" stroke="#8c8c8c"/><path d="M761.03 506.23V520.72M767.99 506.23V520.72M774.95 506.23V520.72M760.53 506.73H781.91M760.53 511.39H781.91M760.53 516.05H781.91" stroke="#1e1e1e"/></g>
<path d="M869 516.2H806" fill="none" stroke="#0f970f" stroke-width="3.4"/>
<path d="M814.20 510.55L805.35 516.20L814.20 521.85" fill="none" stroke="#0f970f" stroke-width="3.1" stroke-linecap="round" stroke-linejoin="miter" stroke-miterlimit="10"/>
<text y="511.37" font-size="10.90" fill="#1a1a1a" font-weight="500"><tspan x="828.52" textLength="25.91" lengthAdjust="spacingAndGlyphs">閲覧</tspan></text>
<g transform="translate(869.00 502.10) scale(0.9894 0.9794)" stroke="#2a2a2a" stroke-width="1.16" fill="#fff" stroke-linejoin="round" stroke-linecap="round"><path d="M0.9 31.6V25.6Q0.9 22.6 4.4 21.3L10.4 18.9H17.6L23.8 21.3Q27.3 22.6 27.3 25.6V31.6Q14.1 34.6 0.9 31.6Z"/><path d="M10.7 16V18.6Q14 20.4 17.4 18.6V16" fill="#fff" stroke-width="1.02"/><ellipse cx="13.85" cy="10.4" rx="5.6" ry="5.8" stroke-width="1.09"/><path d="M5.8 9.7Q6.6 8.6 6.9 7Q8.1 0.8 14 0.8Q20.8 0.8 22.1 7.6Q22.4 10 21.3 11.8Q20.9 8.6 19.3 6.2Q17.5 9.2 13.8 10.4Q10.4 11.2 5.8 9.7Z" fill="#fff" stroke-width="1.02"/><path d="M5.9 29.8Q5 27.6 5.3 25.8Q5.8 23.1 8 23.1Q10.2 23.1 10.7 25.8Q11 27.6 10.1 29.8" fill="none" stroke-width="0.88"/><path d="M18.7 19.4Q20.4 20.6 20.4 23" fill="none" stroke-width="0.75"/><circle cx="20.4" cy="24.5" r="1.25" stroke-width="0.75"/></g>
<text y="549.43" font-size="11.12" fill="#1a1a1a" font-weight="500"><tspan x="688.77" textLength="137.09" lengthAdjust="spacingAndGlyphs">電カル、調剤システム等</tspan></text>
<text y="549.48" font-size="10.71" fill="#1a1a1a" font-weight="500"><tspan x="839.36" textLength="87.16" lengthAdjust="spacingAndGlyphs">医師・薬剤師等</tspan></text>
<circle cx="671.7" cy="407.5" r="12.45" fill="#fbb90c"/>
<text x="671.7" y="413.27" font-size="14.6" font-weight="700" fill="#fff" text-anchor="middle" font-family="'DejaVu Sans','Liberation Sans',sans-serif">2</text>
<rect x="677.75" y="562" width="256.3" height="79.1" fill="#fff" stroke="#0f970f" stroke-width="3.4"/>
<text y="577.92" font-size="12.71" fill="#000" font-weight="700" stroke="#000" stroke-width="0.22"><tspan x="781.77" textLength="46.50" lengthAdjust="spacingAndGlyphs">自宅等</tspan></text>
<g transform="translate(728.60 589.50) scale(1.0252 1.0284)"><path d="M0.3 26.6V20.8Q0.3 18.6 2.6 17.6L8.3 15H15.9L21.2 17.6Q23.5 18.6 23.5 20.8V26.6Q23.5 27.6 22.5 27.8Q11.9 29.2 1.3 27.8Q0.3 27.6 0.3 26.6Z" fill="#050505"/><path d="M9.6 13H14.1V15.6H9.6Z" fill="#050505"/><path d="M8.9 14.9L9.9 28.3Q11.9 28.7 14 28.3L15 14.9Q12 15.7 8.9 14.9Z" fill="#fff"/><path d="M10.4 16.7H13.5L13.1 18.4H10.8Z" fill="#050505"/><path d="M10.9 18.8H13L13.3 26.2L11.95 27.9L10.6 26.2Z" fill="#050505"/><path d="M16.9 21.9H20.8" stroke="#fff" stroke-width="1.3"/><ellipse cx="11.85" cy="8.5" rx="4.9" ry="5.0" fill="#fff" stroke="#050505" stroke-width="1.35"/><path d="M4.3 8.0Q5.0 7.0 5.3 5.6Q6.4 0.1 11.6 0.1Q17.6 0.1 18.7 6.2Q18.9 8.4 18.1 9.8L16.8 9.6Q17 6.6 16.1 4.4Q14.4 7.4 11.3 8.5Q8.4 9.3 4.3 8.0Z" fill="#050505" stroke="#050505" stroke-width="0.4" stroke-linejoin="round"/></g>
<text y="629.37" font-size="10.08" fill="#1a1a1a" font-weight="500"><tspan x="728.83" textLength="22.43" lengthAdjust="spacingAndGlyphs">患者</tspan></text>
<g transform="translate(794.80 597.00) rotate(-30)" stroke="#3a3a3a" stroke-width="0.9" fill="#fff"><rect x="-10.90" y="-5.80" width="21.80" height="11.60" rx="0.8"/><path d="M-10.90 -1.86H10.90M-10.90 0.70H10.90"/><path d="M-6.10 3.25H1.09" stroke-width="0.8"/></g>
<text y="617.01" font-size="9.13" fill="#1a1a1a" font-weight="500"><tspan x="766.89" textLength="60.18" lengthAdjust="spacingAndGlyphs">マイナンバー</tspan></text>
<text y="628.97" font-size="9.71" fill="#1a1a1a" font-weight="500"><tspan x="781.67" textLength="31.04" lengthAdjust="spacingAndGlyphs">カード</tspan></text>
<g stroke="#3a3a3a" fill="#fff"><rect x="851.80" y="585.60" width="17.80" height="31.20" rx="1.2" stroke-width="1.2"/><rect x="854.24" y="588.73" width="12.92" height="24.79" stroke-width="0.9"/><path d="M859.18 587.11H862.22" stroke-width="0.6"/></g>
<text y="629.01" font-size="9.01" fill="#1a1a1a" font-weight="500"><tspan x="829.19" textLength="70.48" lengthAdjust="spacingAndGlyphs">マイナポータル</tspan></text>
<circle cx="671.6" cy="573.8" r="12.45" fill="#fbb90c"/>
<text x="671.6" y="579.57" font-size="14.6" font-weight="700" fill="#fff" text-anchor="middle" font-family="'DejaVu Sans','Liberation Sans',sans-serif">3</text>
</svg>
</body>
</html>
